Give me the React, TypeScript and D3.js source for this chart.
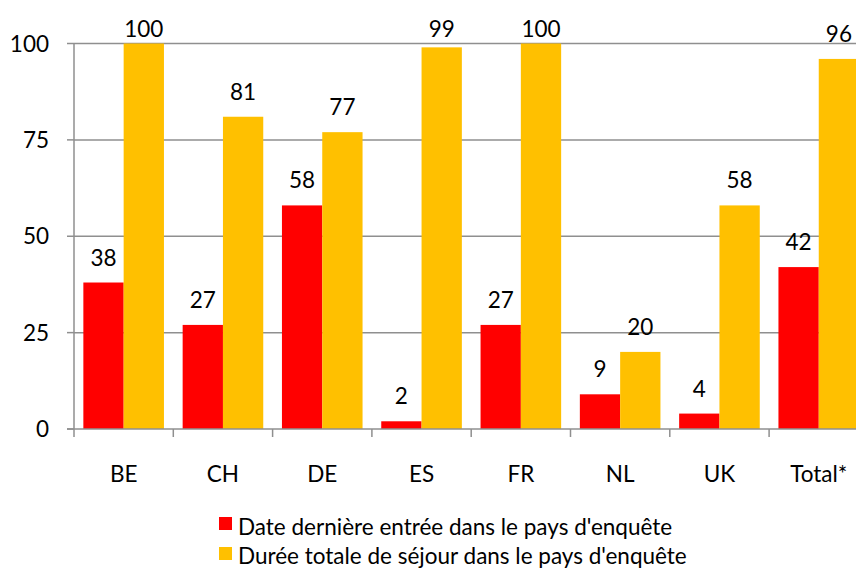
import React, { useRef, useEffect } from 'react';
import * as d3 from 'd3';

// data
const categories = ['BE', 'CH', 'DE', 'ES', 'FR', 'NL', 'UK', 'Total*'];
const seriesNames = [
  'Date dernière entrée dans le pays d\'enquête',
  'Durée totale de séjour dans le pays d\'enquête'
];
const derniereEntree = [38, 27, 58, 2, 27, 9, 4, 42];
const dureeTotale = [100, 81, 77, 99, 100, 20, 58, 96];
const yTicks = [0, 25, 50, 75, 100];
const colors = ['#FF0000', '#FFC000'];

export default function App() {
  const ref = useRef<SVGSVGElement>(null);

  useEffect(() => {
    const width = 856;
    const height = 570;
    const left = 74;
    const step = 99.3;
    const y0 = 429;
    const y100 = 43.5;
    const font = 'Lato, "Open Sans", sans-serif';
    const fs = 22.5;

    const svg = d3.select(ref.current);
    svg.selectAll('*').remove();
    svg.attr('width', width).attr('height', height);

    const xScale = d3.scaleBand<string>()
      .domain(categories)
      .range([left, left + step * categories.length])
      .padding(0);

    const xInner = d3.scaleBand<string>()
      .domain(['a', 'b'])
      .range([0, xScale.bandwidth()])
      .paddingInner(0)
      .paddingOuter(0.232);

    const yScale = d3.scaleLinear().domain([0, 100]).range([y0, y100]);

    // gridlines
    svg.append('g')
      .selectAll('line')
      .data(yTicks.filter(d => d > 0))
      .join('line')
      .attr('x1', left)
      .attr('x2', width)
      .attr('y1', d => yScale(d))
      .attr('y2', d => yScale(d))
      .attr('stroke', '#8f8f8f')
      .attr('stroke-width', 1.5);

    const series = [derniereEntree, dureeTotale];
    const keys = ['a', 'b'];

    series.forEach((vals, si) => {
      const g = svg.append('g');
      g.selectAll('rect')
        .data(vals)
        .join('rect')
        .attr('x', (d, i) => (xScale(categories[i]) as number) + (xInner(keys[si]) as number))
        .attr('width', xInner.bandwidth())
        .attr('y', d => yScale(d))
        .attr('height', d => y0 - yScale(d))
        .attr('fill', colors[si]);

      g.selectAll('text')
        .data(vals)
        .join('text')
        .attr('x', (d, i) => (xScale(categories[i]) as number) + (xInner(keys[si]) as number) + xInner.bandwidth() / 2)
        .attr('y', d => Math.max(37, yScale(d) - 17))
        .attr('text-anchor', 'middle')
        .attr('font-family', font)
        .attr('font-size', fs)
        .attr('fill', '#000')
        .text(d => d);
    });

    // y axis
    const yAxis = svg.append('g');
    yAxis.append('line')
      .attr('x1', left).attr('x2', left)
      .attr('y1', y100).attr('y2', y0)
      .attr('stroke', '#8f8f8f').attr('stroke-width', 1.5);
    yAxis.selectAll('line.tick')
      .data(yTicks)
      .join('line')
      .attr('class', 'tick')
      .attr('x1', 67).attr('x2', left)
      .attr('y1', d => yScale(d)).attr('y2', d => yScale(d))
      .attr('stroke', '#8f8f8f').attr('stroke-width', 1.5);
    yAxis.selectAll('text')
      .data(yTicks)
      .join('text')
      .attr('x', 49)
      .attr('y', d => yScale(d))
      .attr('dy', '0.36em')
      .attr('text-anchor', 'end')
      .attr('font-family', font)
      .attr('font-size', fs)
      .text(d => d);

    // x axis
    const xAxis = svg.append('g');
    xAxis.append('line')
      .attr('x1', left - 7).attr('x2', width)
      .attr('y1', y0).attr('y2', y0)
      .attr('stroke', '#8f8f8f').attr('stroke-width', 1.5);
    xAxis.selectAll('line.tick')
      .data(categories)
      .join('line')
      .attr('class', 'tick')
      .attr('x1', d => xScale(d) as number).attr('x2', d => xScale(d) as number)
      .attr('y1', y0).attr('y2', 437)
      .attr('stroke', '#8f8f8f').attr('stroke-width', 1.5);
    xAxis.selectAll('text')
      .data(categories)
      .join('text')
      .attr('x', d => (xScale(d) as number) + xScale.bandwidth() / 2)
      .attr('y', 482)
      .attr('text-anchor', 'middle')
      .attr('font-family', font)
      .attr('font-size', fs)
      .text(d => d);

    // legend
    const legend = svg.append('g');
    seriesNames.forEach((name, i) => {
      legend.append('rect')
        .attr('x', 219).attr('y', 517 + i * 30)
        .attr('width', 13).attr('height', 13)
        .attr('fill', colors[i]);
      legend.append('text')
        .attr('x', 238).attr('y', 535 + i * 29)
        .attr('font-family', font)
        .attr('font-size', fs)
        .text(name);
    });
  }, []);

  return (
    <div>
      <svg ref={ref} style={{ position: 'absolute', left: 0, top: 0 }}></svg>
    </div>
  );
}
